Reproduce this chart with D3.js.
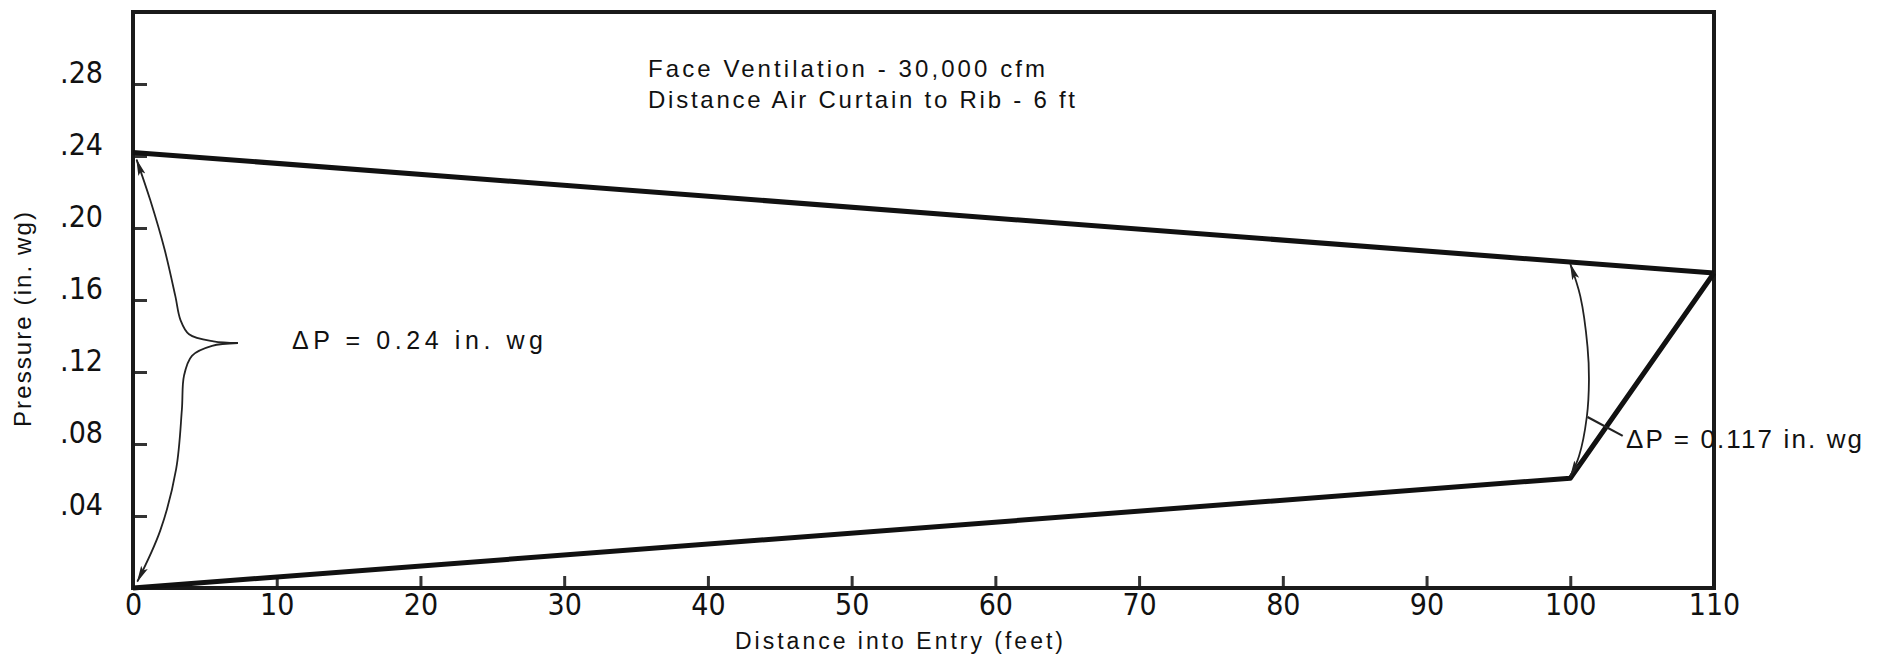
<!DOCTYPE html>
<html>
<head>
<meta charset="utf-8">
<script src="https://cdn.jsdelivr.net/npm/d3@7/dist/d3.min.js"></script>
<style>
  html, body { margin: 0; padding: 0; background: #fff; }
  svg { display: block; }
  .txt { font-family: "Liberation Sans", Arial, sans-serif; fill: #111; }
  .tick text { font-family: "Liberation Sans Narrow", "DejaVu Sans Condensed", "Liberation Sans", sans-serif; fill: #111; }
</style>
</head>
<body>
<script>
// ---- data ----
const xTickValues = [0, 10, 20, 30, 40, 50, 60, 70, 80, 90, 100, 110];
const yTickValues = [0.04, 0.08, 0.12, 0.16, 0.20, 0.24, 0.28];

// upper line (pressure on intake side)
const upperDistance = [0, 110];
const upperPressure = [0.242, 0.175];

// lower line (return side)
const lowerDistance = [0, 100, 110];
const lowerPressure = [0, 0.061, 0.175];

// annotation curves (data units)
const leftBraceTopX = [0.25, 1.2, 2.2, 2.95, 3.3, 3.9, 5.6, 7.3];
const leftBraceTopY = [0.238, 0.2155, 0.188, 0.162, 0.149, 0.141, 0.137, 0.1361];
const leftBraceBotX = [7.3, 5.5, 4.1, 3.55, 3.4, 3.0, 1.9, 0.3];
const leftBraceBotY = [0.1361, 0.1345, 0.129, 0.118, 0.099, 0.066, 0.032, 0.0035];
const rightArcX = [100, 100.7, 101.2, 101.3, 101.15, 100.6, 100];
const rightArcY = [0.180, 0.162, 0.134, 0.116, 0.095, 0.073, 0.062];
const leaderX = [101.2, 103.65];
const leaderY = [0.095, 0.0845];

const titleLines = ["Face Ventilation - 30,000 cfm", "Distance Air Curtain to Rib - 6 ft"];
const xTitle = "Distance into Entry (feet)";
const yTitle = "Pressure (in. wg)";
const dp1Text = "ΔP = 0.24 in. wg";
const dp2Text = "ΔP = 0.117 in. wg";

// ---- layout ----
const W = 1887, H = 670;
const L = 133, R = 1714, T = 12, B = 588;

const svg = d3.select("body").append("svg").attr("width", W).attr("height", H);

const defs = svg.append("defs");
defs.append("marker")
  .attr("id", "arrow")
  .attr("viewBox", "0 0 17 9")
  .attr("refX", 16).attr("refY", 4.5)
  .attr("markerWidth", 17).attr("markerHeight", 9)
  .attr("markerUnits", "userSpaceOnUse")
  .attr("orient", "auto-start-reverse")
  .append("path").attr("d", "M0,0.8 L17,4.5 L0,8.2 L3.5,4.5 Z").attr("fill", "#222");

const x = d3.scaleLinear().domain([0, 110]).range([L, R]);
const y = d3.scaleLinear().domain([0, 0.32]).range([B, T]);

// axes
const xAxis = d3.axisBottom(x).tickValues(xTickValues).tickSize(-12).tickSizeOuter(0).tickPadding(6);
const gx = svg.append("g").attr("transform", `translate(0,${B})`).call(xAxis);
gx.select(".domain").remove();
gx.selectAll(".tick line").attr("stroke", "#333").attr("stroke-width", 3)
  .filter(d => d === 0 || d === 110).remove();
gx.selectAll(".tick text").attr("font-size", 30).attr("fill", "#111");

const yAxis = d3.axisLeft(y).tickValues(yTickValues).tickSize(-14).tickSizeOuter(0).tickPadding(30)
  .tickFormat(d => d3.format(".2f")(d).replace(/^0/, ""));
const gy = svg.append("g").attr("transform", `translate(${L},0)`).call(yAxis);
gy.select(".domain").remove();
gy.selectAll(".tick line").attr("stroke", "#333").attr("stroke-width", 3);
gy.selectAll(".tick text").attr("font-size", 30).attr("dy", "-2px").attr("fill", "#111");

// frame
svg.append("rect")
  .attr("x", L).attr("y", T).attr("width", R - L).attr("height", B - T)
  .attr("fill", "none").attr("stroke", "#1a1a1a").attr("stroke-width", 4);

// data lines
const line = d3.line().x(d => x(d[0])).y(d => y(d[1]));
svg.append("path")
  .datum(d3.zip(upperDistance, upperPressure))
  .attr("d", line).attr("fill", "none").attr("stroke", "#111").attr("stroke-width", 5);
svg.append("path")
  .datum(d3.zip(lowerDistance, lowerPressure))
  .attr("d", line).attr("fill", "none").attr("stroke", "#111").attr("stroke-width", 5)
  .attr("stroke-linejoin", "round");

// annotation curves
const curveLine = d3.line().x(d => x(d[0])).y(d => y(d[1])).curve(d3.curveCatmullRom.alpha(0.5));
svg.append("path")
  .datum(d3.zip(leftBraceTopX, leftBraceTopY))
  .attr("d", curveLine).attr("fill", "none").attr("stroke", "#222").attr("stroke-width", 1.8)
  .attr("marker-start", "url(#arrow)");
svg.append("path")
  .datum(d3.zip(leftBraceBotX, leftBraceBotY))
  .attr("d", curveLine).attr("fill", "none").attr("stroke", "#222").attr("stroke-width", 1.8)
  .attr("marker-end", "url(#arrow)");
svg.append("path")
  .datum(d3.zip(rightArcX, rightArcY))
  .attr("d", curveLine).attr("fill", "none").attr("stroke", "#222").attr("stroke-width", 1.8)
  .attr("marker-start", "url(#arrow)").attr("marker-end", "url(#arrow)");
svg.append("path")
  .datum(d3.zip(leaderX, leaderY))
  .attr("d", line).attr("fill", "none").attr("stroke", "#222").attr("stroke-width", 2.2);

// texts
svg.append("text").attr("class", "txt")
  .attr("x", 648).attr("y", 77).attr("font-size", 24)
  .attr("textLength", 397).attr("lengthAdjust", "spacing")
  .text(titleLines[0]);
svg.append("text").attr("class", "txt")
  .attr("x", 648).attr("y", 108).attr("font-size", 24)
  .attr("textLength", 427).attr("lengthAdjust", "spacing")
  .text(titleLines[1]);

svg.append("text").attr("class", "txt")
  .attr("x", 292).attr("y", 349).attr("font-size", 25)
  .attr("textLength", 251).attr("lengthAdjust", "spacing")
  .text(dp1Text);
svg.append("text").attr("class", "txt")
  .attr("x", 1626).attr("y", 448).attr("font-size", 26)
  .attr("textLength", 236).attr("lengthAdjust", "spacing")
  .text(dp2Text);

svg.append("text").attr("class", "txt")
  .attr("x", 735).attr("y", 649).attr("font-size", 23)
  .attr("textLength", 328).attr("lengthAdjust", "spacing")
  .text(xTitle);

svg.append("text").attr("class", "txt")
  .attr("transform", "translate(31,427) rotate(-90)")
  .attr("x", 0).attr("y", 0).attr("font-size", 24)
  .attr("textLength", 215).attr("lengthAdjust", "spacing")
  .text(yTitle);
</script>
</body>
</html>
